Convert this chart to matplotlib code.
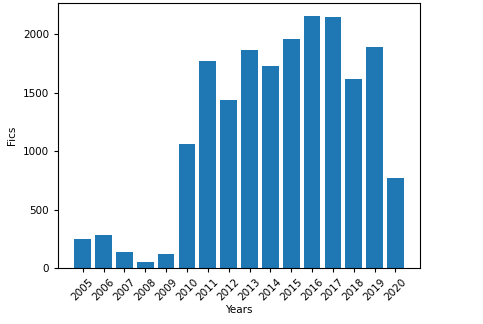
import matplotlib
matplotlib.use("Agg")
import matplotlib.pyplot as plt

years = ["2005", "2006", "2007", "2008", "2009", "2010", "2011", "2012",
         "2013", "2014", "2015", "2016", "2017", "2018", "2019", "2020"]
fics = [245, 282, 137, 54, 120, 1060, 1772, 1439, 1863, 1724, 1957, 2157,
        2145, 1613, 1889, 769]

fig = plt.figure(figsize=(4.83, 3.24), dpi=100)
ax = fig.add_axes([0.12, 0.173, 0.75, 0.817])
ax.bar(years, fics, color="#1f77b4")
ax.set_xlabel("Years", fontsize=7.5, labelpad=2)
ax.set_ylabel("Fics", fontsize=7.5)
ax.tick_params(axis="both", labelsize=7.5, length=3)
plt.setp(ax.get_xticklabels(), rotation=45)
for s in ax.spines.values():
    s.set_linewidth(0.8)
fig.savefig("out.png", dpi=100)
